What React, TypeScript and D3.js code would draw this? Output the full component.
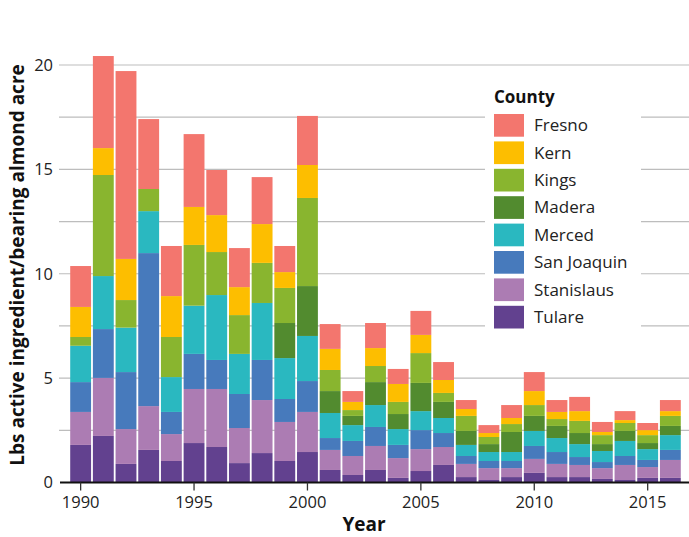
import React from "react";
import * as d3 from "d3";

const years = d3.range(1990, 2017);
const counties = ["Tulare", "Stanislaus", "San Joaquin", "Merced", "Madera", "Kings", "Kern", "Fresno"];
const legendOrder = ["Fresno", "Kern", "Kings", "Madera", "Merced", "San Joaquin", "Stanislaus", "Tulare"];
const colors = ["#62418f", "#ac7cb3", "#477abc", "#2ab8c0", "#528b2f", "#89b52f", "#fdbe00", "#f3766e"];

const tulare = [1.80, 2.23, 0.89, 1.56, 1.03, 1.89, 1.70, 0.93, 1.41, 1.03, 1.46, 0.60, 0.36, 0.60, 0.22, 0.55, 0.84, 0.26, 0.12, 0.26, 0.46, 0.26, 0.26, 0.17, 0.12, 0.22, 0.22];
const stanislaus = [1.58, 2.78, 1.67, 2.10, 1.29, 2.59, 2.78, 1.68, 2.54, 1.87, 1.92, 0.96, 0.91, 1.15, 0.95, 1.05, 0.86, 0.63, 0.57, 0.43, 0.67, 0.63, 0.58, 0.52, 0.72, 0.52, 0.86];
const sanJoaquin = [1.43, 2.34, 2.73, 7.33, 1.06, 1.68, 1.39, 1.63, 1.92, 1.10, 1.48, 0.57, 0.72, 0.91, 0.63, 0.91, 0.67, 0.38, 0.34, 0.34, 0.62, 0.57, 0.38, 0.29, 0.43, 0.34, 0.48];
const merced = [1.74, 2.54, 2.13, 2.01, 1.67, 2.31, 3.11, 1.92, 2.73, 1.96, 2.16, 1.20, 0.76, 1.05, 0.76, 0.91, 0.72, 0.53, 0.43, 0.43, 0.72, 0.67, 0.62, 0.53, 0.72, 0.52, 0.71];
const madera = [0, 0, 0, 0, 0, 0, 0, 0, 0, 1.68, 2.39, 1.05, 0.44, 1.10, 0.72, 1.35, 0.77, 0.67, 0.38, 0.96, 0.72, 0.58, 0.53, 0.33, 0.48, 0.29, 0.44];
const kings = [0.42, 4.84, 1.32, 1.06, 1.92, 2.91, 2.06, 1.86, 1.92, 1.68, 4.22, 1.01, 0.28, 0.77, 0.58, 1.43, 0.43, 0.72, 0.34, 0.38, 0.52, 0.33, 0.58, 0.43, 0.38, 0.38, 0.48];
const kern = [1.44, 1.29, 1.97, 0, 1.96, 1.82, 1.77, 1.34, 1.86, 0.76, 1.58, 1.01, 0.39, 0.86, 0.86, 0.87, 0.62, 0.33, 0.19, 0.29, 0.67, 0.34, 0.47, 0.15, 0.14, 0.24, 0.23];
const fresno = [1.96, 4.41, 9.00, 3.35, 2.40, 3.49, 2.16, 1.87, 2.25, 1.25, 2.35, 1.19, 0.52, 1.20, 0.72, 1.15, 0.86, 0.43, 0.38, 0.62, 0.91, 0.57, 0.68, 0.48, 0.43, 0.34, 0.53];

const yTicks = [0, 5, 10, 15, 20];
const yGrid = [2.5, 5, 7.5, 10, 12.5, 15, 17.5, 20];
const xTicks = [1990, 1995, 2000, 2005, 2010, 2015];

const W = 689;
const H = 537;
const FONT = "'Open Sans', sans-serif";

export default function App() {
  const series = [tulare, stanislaus, sanJoaquin, merced, madera, kings, kern, fresno];
  const rows = years.map((yr, i) => {
    const r: any = { year: yr };
    counties.forEach((c, k) => (r[c] = series[k][i]));
    return r;
  });
  const stack = d3.stack<any>().keys(counties)(rows);
  const color = d3.scaleOrdinal<string, string>().domain(counties).range(colors);

  const x = d3.scaleBand<number>().domain(years).range([69.3, 681.7]).paddingInner(0.08).paddingOuter(0.04);
  const y = d3.scaleLinear().domain([0, 20]).range([482.5, 65]);

  const legX = 494;
  const legY0 = 114;
  const legStep = 27.4;

  return (
    <svg width={W} height={H} style={{ position: "absolute", left: 0, top: 0, background: "#fff" }} fontFamily={FONT}>
      {yGrid.map((v) => (
        <line key={v} x1={59} x2={W} y1={y(v)} y2={y(v)} stroke="#bdbdbd" strokeWidth={1.2} />
      ))}
      {yTicks.map((v) => (
        <text key={v} x={53} y={y(v)} dy="0.35em" textAnchor="end" fontSize={16.5} fill="#222">
          {v}
        </text>
      ))}
      {stack.map((layer) => (
        <g key={layer.key} fill={color(layer.key)}>
          {layer.map((d: any) =>
            d[1] - d[0] > 0 ? (
              <rect key={d.data.year} x={x(d.data.year)} width={x.bandwidth()} y={y(d[1])} height={y(d[0]) - y(d[1])} />
            ) : null
          )}
        </g>
      ))}
      <line x1={60} x2={W} y1={y(0)} y2={y(0)} stroke="#111" strokeWidth={2.2} />
      {xTicks.map((t) => {
        const cx = (x(t) as number) + x.bandwidth() / 2;
        return (
          <g key={t}>
            <line x1={cx} x2={cx} y1={y(0)} y2={y(0) + 8} stroke="#333" strokeWidth={1.3} />
            <text x={cx} y={508} textAnchor="middle" fontSize={16.5} fill="#222">
              {t}
            </text>
          </g>
        );
      })}
      <text x={364} y={531} textAnchor="middle" fontSize={19} fontWeight="bold" fill="#111">
        Year
      </text>
      <text transform={`translate(24,${265}) rotate(-90)`} textAnchor="middle" fontSize={19} fontWeight="bold" fill="#111">
        Lbs active ingredient/bearing almond acre
      </text>
      <rect x={485} y={72} width={156} height={268} fill="#fff" />
      <text x={legX} y={103} fontSize={17} fontWeight="bold" fill="#111">
        County
      </text>
      {legendOrder.map((c, i) => (
        <g key={c}>
          <rect x={legX} y={legY0 + i * legStep} width={30} height={22.7} fill={color(c)} />
          <text x={534} y={legY0 + i * legStep + 11.3} dy="0.35em" fontSize={17} fill="#222">
            {c}
          </text>
        </g>
      ))}
    </svg>
  );
}
